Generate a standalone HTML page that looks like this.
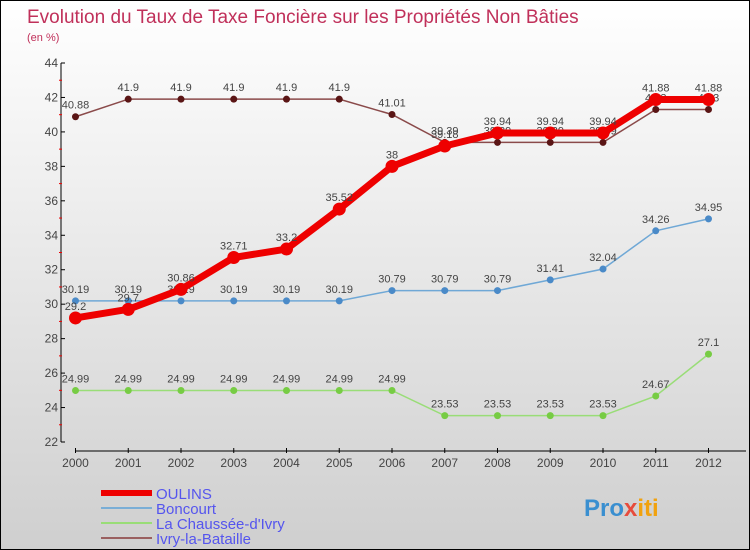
<!DOCTYPE html>
<html><head><meta charset="utf-8"><style>
body{margin:0}
#c{width:750px;height:550px;position:relative;box-sizing:border-box;border:1px solid #000;background:linear-gradient(#ffffff,#cfcfcf);font-family:"Liberation Sans",sans-serif;overflow:hidden}
svg text{font-family:"Liberation Sans",sans-serif}
</style></head><body>
<div id="c">
<svg id="s" width="750" height="550"></svg>
</div>
<script>
const years=["2000","2001","2002","2003","2004","2005","2006","2007","2008","2009","2010","2011","2012"];
const oulins=[29.2,29.7,30.86,32.71,33.2,35.52,38,39.18,39.94,39.94,39.94,41.88,41.88];
const boncourt=[30.19,30.19,30.19,30.19,30.19,30.19,30.79,30.79,30.79,31.41,32.04,34.26,34.95];
const chaussee=[24.99,24.99,24.99,24.99,24.99,24.99,24.99,23.53,23.53,23.53,23.53,24.67,27.1];
const ivry=[40.88,41.9,41.9,41.9,41.9,41.9,41.01,39.39,39.39,39.39,39.39,41.3,41.3];
const yTicks=[22,24,26,28,30,32,34,36,38,40,42,44];
const NS="http://www.w3.org/2000/svg",s=document.getElementById('s');
const x=i=>74.5+i*52.75, y=v=>441-(v-22)*(379/22);
function mk(t,a,p){const e=document.createElementNS(NS,t);for(const k in a)e.setAttribute(k,a[k]);(p||s).appendChild(e);return e;}
let t=mk('text',{x:26,y:22,fill:'#c0305a','font-size':19});t.textContent='Evolution du Taux de Taxe Foncière sur les Propriétés Non Bâties';

t=mk('text',{x:26,y:40,fill:'#c0305a','font-size':11});t.textContent='(en %)';

let ax=mk('line',{x1:60,y1:62,x2:60,y2:441,stroke:'#000'});
yTicks.forEach(v=>{mk('line',{x1:60,x2:64,y1:y(v),y2:y(v),stroke:'#000'});
 if(v<44)mk('line',{x1:58,x2:61,y1:y(v+1),y2:y(v+1),stroke:'#e00'});
 const l=mk('text',{x:57,y:y(v)+4,'text-anchor':'end','font-size':12,fill:'#444'});l.textContent=v;
 });
ax=mk('line',{x1:75,y1:450,x2:745,y2:450,stroke:'#000'});
years.forEach((yr,i)=>{mk('line',{x1:x(i),x2:x(i),y1:447,y2:452,stroke:'#000'});
 const l=mk('text',{x:x(i),y:466,'text-anchor':'middle','font-size':12,fill:'#444'});l.textContent=yr;
 });
function series(d,col,w,r,name,dot){const g=mk('g',{});
 mk('polyline',{points:d.map((v,i)=>x(i)+','+y(v)).join(' '),fill:'none',stroke:col,'stroke-width':w},g);
 d.forEach((v,i)=>{const c=mk('circle',{cx:x(i),cy:y(v),r:r,fill:dot},g);
 const l=mk('text',{x:x(i),y:y(v)-8,'text-anchor':'middle','font-size':11,fill:'#444'},g);l.textContent=v;});}
series(chaussee,'#99dd77',1.5,3.5,'series-la-chaussee','#77cc44');
series(boncourt,'#6fa8d6',1.5,3.5,'series-boncourt','#4a8ac8');
series(ivry,'#8a4a4a',1.5,3.5,'series-ivry','#5a1515');
series(oulins,'#ee0000',7,6.5,'series-oulins','#ee0000');
const leg=[['OULINS','#ee0000',6],['Boncourt','#7aaed6',2],['La Chaussée-d\'Ivry','#99dd77',2],['Ivry-la-Bataille','#9a6060',2]];
leg.forEach((e,i)=>{const g=mk('g',{});
 const yy=492+i*15;mk('line',{x1:100,x2:151,y1:yy,y2:yy,stroke:e[1],'stroke-width':e[2]},g);
 const l=mk('text',{x:155,y:yy+6,'font-size':15,fill:'#5555ee'},g);l.textContent=e[0];});
const lg=mk('text',{x:583,y:515,'font-size':24,'font-weight':'bold',fill:'#f39c12'});
lg.innerHTML='<tspan fill="#3a8fd0">Pro</tspan><tspan fill="#e74c3c">x</tspan><tspan fill="#f1a20f">iti</tspan>';

</script>
</body></html>
